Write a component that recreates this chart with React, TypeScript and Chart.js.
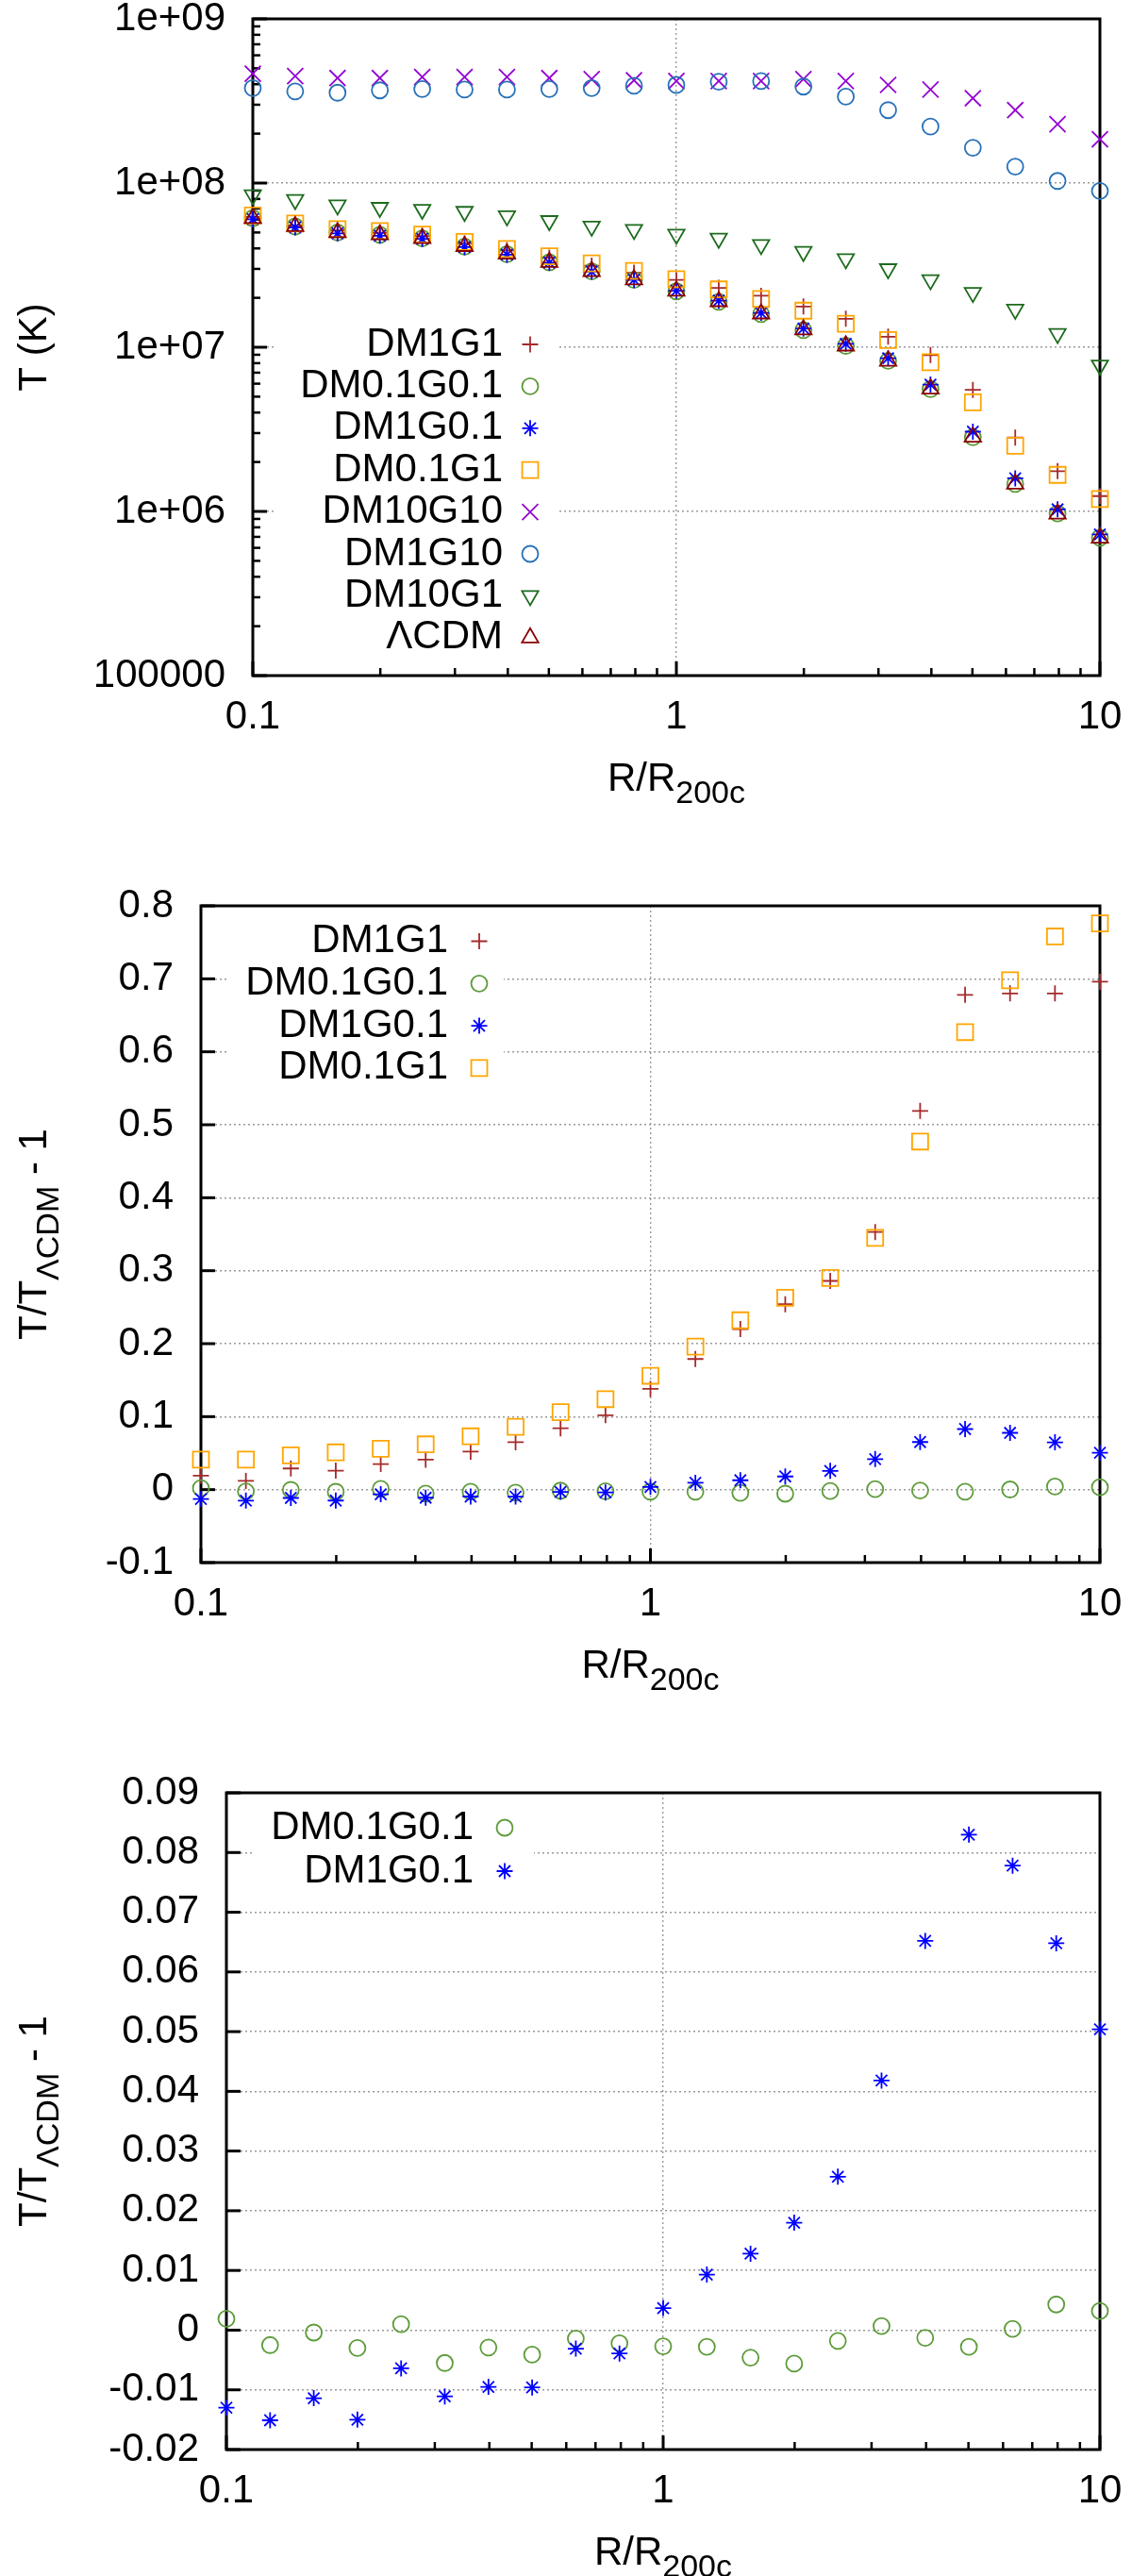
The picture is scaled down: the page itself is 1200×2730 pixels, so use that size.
import React, { useEffect, useRef } from 'react';
import { Chart, registerables } from 'chart.js';
import { drawPoint } from 'chart.js/helpers';

Chart.register(...registerables);

// ---------------- data ----------------
const R = [0.1, 0.1259, 0.1585, 0.1995, 0.2512, 0.3162, 0.3981, 0.5012, 0.631, 0.7943, 1, 1.259, 1.585, 1.995, 2.512, 3.162, 3.981, 5.012, 6.31, 7.943, 10];

// Panel 1: temperature (K)
const T_DM1G1 = [6.22e7, 5.52e7, 5.15e7, 4.98e7, 4.76e7, 4.29e7, 3.89e7, 3.51e7, 3.14e7, 2.84e7, 2.57e7, 2.3e7, 2.06e7, 1.77e7, 1.49e7, 1.16e7, 8.96e6, 5.5e6, 2.82e6, 1.76e6, 1.24e6];
const T_DM01G01 = [6.11e7, 5.44e7, 5.0e7, 4.84e7, 4.6e7, 4.1e7, 3.69e7, 3.29e7, 2.9e7, 2.57e7, 2.19e7, 1.89e7, 1.59e7, 1.27e7, 1.02e7, 8.26e6, 5.56e6, 2.83e6, 1.47e6, 9.71e5, 6.92e5];
const T_DM1G01 = [6.02e7, 5.37e7, 4.94e7, 4.78e7, 4.57e7, 4.07e7, 3.66e7, 3.27e7, 2.89e7, 2.57e7, 2.21e7, 1.92e7, 1.62e7, 1.3e7, 1.05e7, 8.57e6, 5.92e6, 3.06e6, 1.59e6, 1.03e6, 7.25e5];
const T_DM01G1 = [6.35e7, 5.67e7, 5.24e7, 5.1e7, 4.86e7, 4.38e7, 3.97e7, 3.58e7, 3.24e7, 2.92e7, 2.6e7, 2.25e7, 1.97e7, 1.67e7, 1.39e7, 1.107e7, 8.1e6, 4.62e6, 2.51e6, 1.67e6, 1.19e6];
const T_DM10G10 = [4.63e8, 4.48e8, 4.36e8, 4.36e8, 4.42e8, 4.42e8, 4.42e8, 4.36e8, 4.29e8, 4.23e8, 4.18e8, 4.18e8, 4.18e8, 4.29e8, 4.18e8, 3.96e8, 3.71e8, 3.29e8, 2.78e8, 2.28e8, 1.85e8];
const T_DM1G10 = [3.79e8, 3.62e8, 3.55e8, 3.67e8, 3.74e8, 3.71e8, 3.71e8, 3.74e8, 3.79e8, 3.91e8, 3.96e8, 4.14e8, 4.18e8, 3.87e8, 3.36e8, 2.78e8, 2.21e8, 1.64e8, 1.26e8, 1.03e8, 8.96e7];
const T_DM10G1 = [8.46e7, 7.91e7, 7.34e7, 7.09e7, 6.9e7, 6.7e7, 6.3e7, 5.89e7, 5.45e7, 5.2e7, 4.87e7, 4.6e7, 4.21e7, 3.82e7, 3.45e7, 3.0e7, 2.57e7, 2.15e7, 1.7e7, 1.21e7, 7.77e6];
const T_LCDM = [6.1e7, 5.45e7, 5.0e7, 4.85e7, 4.6e7, 4.12e7, 3.7e7, 3.3e7, 2.9e7, 2.58e7, 2.2e7, 1.9e7, 1.6e7, 1.28e7, 1.02e7, 8.25e6, 5.57e6, 2.84e6, 1.47e6, 9.67e5, 6.9e5];

// Panels 2 & 3: T / T_LCDM - 1
const D_DM1G1 = [0.019, 0.012, 0.029, 0.026, 0.035, 0.041, 0.052, 0.065, 0.084, 0.102, 0.138, 0.179, 0.22, 0.254, 0.286, 0.353, 0.519, 0.678, 0.68, 0.68, 0.696];
const D_DM01G01 = [0.0019, -0.0025, -0.0004, -0.003, 0.001, -0.0055, -0.0029, -0.0041, -0.0014, -0.0022, -0.0027, -0.0028, -0.0046, -0.0056, -0.0018, 0.0007, -0.0013, -0.0028, 0.0002, 0.0043, 0.0032];
const D_DM1G01 = [-0.013, -0.0151, -0.0114, -0.015, -0.0064, -0.0111, -0.0095, -0.0096, -0.0031, -0.0039, 0.0037, 0.0093, 0.0128, 0.018, 0.0257, 0.0418, 0.0652, 0.083, 0.0778, 0.0648, 0.0504];
const D_DM01G1 = [0.041, 0.041, 0.047, 0.051, 0.056, 0.062, 0.073, 0.086, 0.106, 0.124, 0.156, 0.196, 0.232, 0.263, 0.29, 0.345, 0.477, 0.627, 0.698, 0.758, 0.776];

// ticks
const X_TICKS = [0.1, 1, 10];
const X_TICK_LABELS = ['0.1', '1', '10'];
const Y1_TICKS = [1e5, 1e6, 1e7, 1e8, 1e9];
const Y1_TICK_LABELS = ['100000', '1e+06', '1e+07', '1e+08', '1e+09'];
const Y2_TICKS = [-0.1, 0, 0.1, 0.2, 0.3, 0.4, 0.5, 0.6, 0.7, 0.8];
const Y2_TICK_LABELS = ['-0.1', '0', '0.1', '0.2', '0.3', '0.4', '0.5', '0.6', '0.7', '0.8'];
const Y3_TICKS = [-0.02, -0.01, 0, 0.01, 0.02, 0.03, 0.04, 0.05, 0.06, 0.07, 0.08, 0.09];
const Y3_TICK_LABELS = ['-0.02', '-0.01', '0', '0.01', '0.02', '0.03', '0.04', '0.05', '0.06', '0.07', '0.08', '0.09'];

function minorLog(lo: number, hi: number) {
  const out: number[] = [];
  for (let d = lo; d < hi; d *= 10) for (let k = 2; k <= 9; k++) out.push(k * d);
  return out;
}
const X_MINOR = minorLog(0.1, 10);
const Y1_MINOR = minorLog(1e5, 1e9);

// ---------------- styles ----------------
const FONT = '"Liberation Sans", Arial, Helvetica, sans-serif';
const FS = 42;
const SUBFS = 34;
const W = 1200;
const H = 940;
const PAGE_H = 2730;

type Sty = { style: string; r: number; rot: number; color: string };
const STY: Record<string, Sty> = {
  DM1G1: { style: 'cross', r: 8.5, rot: 0, color: '#a52a2a' },
  DM01G01: { style: 'circle', r: 8.5, rot: 0, color: '#5d9b3a' },
  DM1G01: { style: 'star', r: 8.5, rot: 0, color: '#0000ff' },
  DM01G1: { style: 'rect', r: 12, rot: 0, color: '#ffa500' },
  DM10G10: { style: 'crossRot', r: 12, rot: 0, color: '#9400d3' },
  DM1G10: { style: 'circle', r: 8.5, rot: 0, color: '#2771b8' },
  DM10G1: { style: 'triangle', r: 10, rot: 180, color: '#1d6b1d' },
  LCDM: { style: 'triangle', r: 10, rot: 0, color: '#8b0000' },
};

type Part = { t: string; sub?: boolean };
type Series = { label: string; key: string; values: number[] };
type PanelCfg = {
  area: { l: number; r: number; t: number; b: number };
  yType: 'logarithmic' | 'linear';
  yMin: number;
  yMax: number;
  yTicks: number[];
  yLabels: string[];
  yMinor: number[];
  series: Series[];
  legend: { textRight: number; markerX: number; y0: number; dy: number; box: [number, number, number, number] };
  yTitle: Part[];
};

const X_TITLE: Part[] = [{ t: 'R/R' }, { t: '200c', sub: true }];
const RATIO_TITLE: Part[] = [{ t: 'T/T' }, { t: 'ΛCDM', sub: true }, { t: ' - 1' }];

const PANELS: PanelCfg[] = [
  {
    area: { l: 268, r: 1166, t: 20, b: 716 },
    yType: 'logarithmic', yMin: 1e5, yMax: 1e9,
    yTicks: Y1_TICKS, yLabels: Y1_TICK_LABELS, yMinor: Y1_MINOR,
    series: [
      { label: 'DM1G1', key: 'DM1G1', values: T_DM1G1 },
      { label: 'DM0.1G0.1', key: 'DM01G01', values: T_DM01G01 },
      { label: 'DM1G0.1', key: 'DM1G01', values: T_DM1G01 },
      { label: 'DM0.1G1', key: 'DM01G1', values: T_DM01G1 },
      { label: 'DM10G10', key: 'DM10G10', values: T_DM10G10 },
      { label: 'DM1G10', key: 'DM1G10', values: T_DM1G10 },
      { label: 'DM10G1', key: 'DM10G1', values: T_DM10G1 },
      { label: 'ΛCDM', key: 'LCDM', values: T_LCDM },
    ],
    legend: { textRight: 533, markerX: 562, y0: 365, dy: 44.4, box: [293, 342, 300, 358] },
    yTitle: [{ t: 'T (K)' }],
  },
  {
    area: { l: 213, r: 1166, t: 20, b: 716 },
    yType: 'linear', yMin: -0.1, yMax: 0.8,
    yTicks: Y2_TICKS, yLabels: Y2_TICK_LABELS, yMinor: [],
    series: [
      { label: 'DM1G1', key: 'DM1G1', values: D_DM1G1 },
      { label: 'DM0.1G0.1', key: 'DM01G01', values: D_DM01G01 },
      { label: 'DM1G0.1', key: 'DM1G01', values: D_DM1G01 },
      { label: 'DM0.1G1', key: 'DM01G1', values: D_DM01G1 },
    ],
    legend: { textRight: 475, markerX: 508, y0: 57.5, dy: 44.8, box: [242, 34, 292, 182] },
    yTitle: RATIO_TITLE,
  },
  {
    area: { l: 240, r: 1166, t: 20, b: 716 },
    yType: 'linear', yMin: -0.02, yMax: 0.09,
    yTicks: Y3_TICKS, yLabels: Y3_TICK_LABELS, yMinor: [],
    series: [
      { label: 'DM0.1G0.1', key: 'DM01G01', values: D_DM01G01 },
      { label: 'DM1G0.1', key: 'DM1G01', values: D_DM1G01 },
    ],
    legend: { textRight: 502, markerX: 535, y0: 57, dy: 46, box: [268, 34, 298, 95] },
    yTitle: RATIO_TITLE,
  },
];

function drawRich(ctx: CanvasRenderingContext2D, parts: Part[], cx: number, cy: number, rotate: boolean) {
  ctx.save();
  ctx.translate(cx, cy);
  if (rotate) ctx.rotate(-Math.PI / 2);
  const widths = parts.map((p) => {
    ctx.font = `${p.sub ? SUBFS : FS}px ${FONT}`;
    return ctx.measureText(p.t).width;
  });
  const total = widths.reduce((a, b) => a + b, 0);
  let x = -total / 2;
  const base = FS * 0.716 / 2;
  ctx.fillStyle = '#000';
  ctx.textAlign = 'left';
  ctx.textBaseline = 'alphabetic';
  parts.forEach((p, i) => {
    ctx.font = `${p.sub ? SUBFS : FS}px ${FONT}`;
    ctx.fillText(p.t, x, p.sub ? base + 13 : base);
    x += widths[i];
  });
  ctx.restore();
}

function makePlugin(cfg: PanelCfg) {
  return {
    id: 'gnuframe',
    beforeDatasetsDraw(chart: any) {
      const ctx: CanvasRenderingContext2D = chart.ctx;
      const a = chart.chartArea;
      const xs = chart.scales.x;
      const ys = chart.scales.y;
      const [bx, by, bw, bh] = cfg.legend.box;
      ctx.save();
      ctx.fillStyle = '#ffffff';
      ctx.fillRect(bx, by, bw, bh);
      ctx.strokeStyle = '#000';
      ctx.lineCap = 'butt';
      const seg = (x1: number, y1: number, x2: number, y2: number, lw: number) => {
        ctx.lineWidth = lw;
        ctx.beginPath();
        ctx.moveTo(x1, y1);
        ctx.lineTo(x2, y2);
        ctx.stroke();
      };
      X_TICKS.forEach((v) => { const p = xs.getPixelForValue(v); seg(p, a.bottom, p, a.bottom - 15, 3); });
      X_MINOR.forEach((v) => { const p = xs.getPixelForValue(v); seg(p, a.bottom, p, a.bottom - 8, 2.5); });
      cfg.yTicks.forEach((v) => { const p = ys.getPixelForValue(v); seg(a.left, p, a.left + 15, p, 3); });
      cfg.yMinor.forEach((v) => { const p = ys.getPixelForValue(v); seg(a.left, p, a.left + 8, p, 2.5); });
      ctx.lineWidth = 3;
      ctx.strokeRect(a.left, a.top, a.right - a.left, a.bottom - a.top);
      ctx.restore();
    },
    afterDatasetsDraw(chart: any) {
      const ctx: CanvasRenderingContext2D = chart.ctx;
      const a = chart.chartArea;
      const lg = cfg.legend;
      ctx.save();
      cfg.series.forEach((s, i) => {
        const y = lg.y0 + i * lg.dy;
        ctx.font = `${FS}px ${FONT}`;
        ctx.fillStyle = '#000';
        ctx.textAlign = 'right';
        ctx.textBaseline = 'middle';
        ctx.fillText(s.label, lg.textRight, y);
        const st = STY[s.key];
        ctx.strokeStyle = st.color;
        ctx.fillStyle = 'rgba(0,0,0,0)';
        ctx.lineWidth = 1.8;
        drawPoint(ctx, { pointStyle: st.style as any, radius: st.r, rotation: st.rot, borderWidth: 1.8 } as any, lg.markerX, y);
      });
      ctx.restore();
      drawRich(ctx, X_TITLE, (a.left + a.right) / 2, a.bottom + 107, false);
      drawRich(ctx, cfg.yTitle, 34, (a.top + a.bottom) / 2, true);
    },
  };
}

function buildConfig(cfg: PanelCfg): any {
  const a = cfg.area;
  const tickFont = { family: FONT, size: FS };
  return {
    type: 'scatter',
    data: {
      datasets: cfg.series.map((s, i) => {
        const st = STY[s.key];
        return {
          label: s.label,
          data: R.map((x, j) => ({ x, y: s.values[j] })),
          showLine: false,
          pointStyle: st.style,
          pointRadius: st.r,
          pointHoverRadius: st.r,
          pointRotation: st.rot,
          pointBorderColor: st.color,
          pointBackgroundColor: 'rgba(0,0,0,0)',
          pointBorderWidth: 1.8,
          clip: false,
          order: -i,
        };
      }),
    },
    options: {
      animation: false,
      responsive: false,
      devicePixelRatio: 1,
      events: [],
      layout: { padding: { left: 0, top: a.t, right: W - a.r, bottom: 0 } },
      plugins: { legend: { display: false }, tooltip: { enabled: false }, title: { display: false } },
      scales: {
        x: {
          type: 'logarithmic',
          position: 'bottom',
          min: 0.1,
          max: 10,
          afterBuildTicks: (s: any) => { s.ticks = X_TICKS.map((v) => ({ value: v })); },
          afterFit: (s: any) => { s.height = H - a.b; s.paddingLeft = 0; s.paddingRight = 0; },
          ticks: {
            autoSkip: false, maxRotation: 0, minRotation: 0, padding: 19, color: '#000', font: tickFont,
            callback: (_v: any, i: number) => X_TICK_LABELS[i],
          },
          grid: { display: true, drawTicks: false, color: '#9a9a9a', lineWidth: 1.4 },
          border: { display: false, dash: [2, 3] },
        },
        y: {
          type: cfg.yType,
          position: 'left',
          min: cfg.yMin,
          max: cfg.yMax,
          afterBuildTicks: (s: any) => { s.ticks = cfg.yTicks.map((v) => ({ value: v })); },
          afterFit: (s: any) => { s.width = a.l; s.paddingTop = 0; s.paddingBottom = 0; },
          ticks: {
            autoSkip: false, padding: 29, color: '#000', font: tickFont,
            callback: (_v: any, i: number) => cfg.yLabels[i],
          },
          grid: { display: true, drawTicks: false, color: '#9a9a9a', lineWidth: 1.4 },
          border: { display: false, dash: [2, 3] },
        },
      },
    },
    plugins: [makePlugin(cfg)],
  };
}

function Panel({ cfg, top }: { cfg: PanelCfg; top: number }) {
  const ref = useRef<HTMLCanvasElement>(null);
  useEffect(() => {
    if (!ref.current) return;
    const chart = new Chart(ref.current, buildConfig(cfg));
    return () => chart.destroy();
  }, [cfg]);
  return (
    <canvas
      ref={ref}
      width={W}
      height={H}
      style={{ position: 'absolute', left: 0, top, width: W, height: H, display: 'block' }}
    />
  );
}

export default function App() {
  useEffect(() => {
    document.body.style.margin = '0';
    document.body.style.background = '#ffffff';
  }, []);
  return (
    <div style={{ position: 'absolute', left: 0, top: 0, width: W, height: PAGE_H, background: '#fff', overflow: 'hidden' }}>
      {PANELS.map((p, i) => (
        <Panel key={i} cfg={p} top={i * H} />
      ))}
    </div>
  );
}
